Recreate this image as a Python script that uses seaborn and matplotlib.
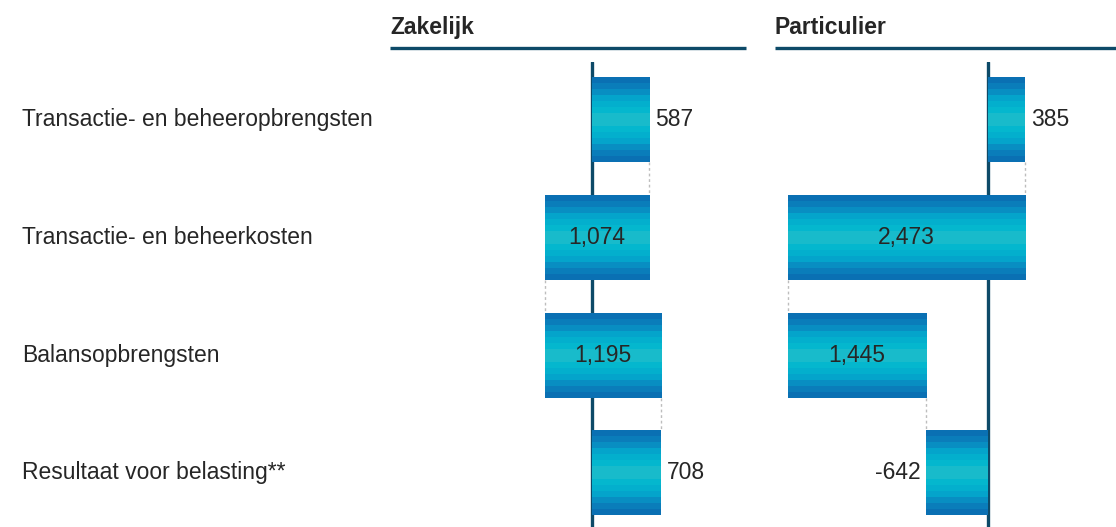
import numpy as np
import pandas as pd
import matplotlib
matplotlib.use("Agg")
import matplotlib.pyplot as plt
import matplotlib.transforms as mtrans
from matplotlib.colors import LinearSegmentedColormap
import seaborn as sns

categories = ["Transactie- en beheeropbrengsten", "Transactie- en beheerkosten",
              "Balansopbrengsten", "Resultaat voor belasting**"]
zakelijk = [587, -1074, 1195, 708]
particulier = [385, -2473, 1445, -642]
panel_titles = ["Zakelijk", "Particulier"]

navy = "#0d4a68"
text_col = "#262626"
grad = LinearSegmentedColormap.from_list(
    "band", ["#0a70b3", "#0a86c0", "#04aacd", "#02b7cf", "#22bdca",
             "#02b7cf", "#04aacd", "#0a86c0", "#0a70b3"])

sns.set_style("white")
plt.rcParams["font.family"] = ["Liberation Sans", "DejaVu Sans"]
FS = 16.5

fig = plt.figure(figsize=(11.16, 5.27), dpi=100)
ax1 = fig.add_axes([390 / 1116, 0, 356 / 1116, 465 / 527])
ax2 = fig.add_axes([775 / 1116, 0, 341 / 1116, 465 / 527])


def waterfall(ax, values, title, xlim):
    vals = np.array(values, dtype=float)
    # starts / ends of each step; last bar is the total from zero
    starts = np.zeros(len(vals))
    ends = np.zeros(len(vals))
    run = 0.0
    for i, v in enumerate(vals):
        if i == len(vals) - 1:
            starts[i], ends[i] = 0, v
        else:
            starts[i], ends[i] = run, run + v
            run += v
    df = pd.DataFrame({"cat": categories, "delta": ends - starts})
    sns.barplot(data=df, x="delta", y="cat", orient="h", ax=ax, width=0.72,
                color="#0aa0c8", linewidth=0, zorder=3)
    patches = list(ax.patches)
    for p, s, e in zip(patches, starts, ends):
        p.set_x(min(s, e))
        p.set_width(abs(e - s))
        p.set_facecolor("none")
        y0, h = p.get_y(), p.get_height()
        img = ax.imshow(np.linspace(0, 1, 14)[:, None], cmap=grad,
                        aspect="auto", interpolation="nearest",
                        extent=[min(s, e), max(s, e), y0 + h, y0], zorder=3)
        img.set_clip_path(p)

    # dotted connectors
    for i in range(len(vals) - 1):
        xc = ends[i]
        p0, p1 = patches[i], patches[i + 1]
        ax.plot([xc, xc], [p0.get_y() + p0.get_height(), p1.get_y()],
                color="#bdbdbd", lw=1, ls=(0, (2, 2)), zorder=1)

    ax.axvline(0, color=navy, lw=2.4, zorder=2)

    # value labels
    for i, (p, v) in enumerate(zip(patches, vals)):
        yc = p.get_y() + p.get_height() / 2
        if i in (1, 2):
            ax.text((starts[i] + ends[i]) / 2, yc, f"{abs(v):,.0f}", ha="center",
                    va="center", fontsize=FS, color=text_col, zorder=4)
        elif v >= 0:
            ax.text(ends[i] + 60, yc, f"{v:,.0f}", ha="left", va="center",
                    fontsize=FS, color=text_col, zorder=4)
        else:
            ax.text(ends[i] - 60, yc, f"{v:,.0f}", ha="right", va="center",
                    fontsize=FS, color=text_col, zorder=4)

    ax.set_xlim(*xlim)
    ax.set_ylim(3.46, -0.49)
    ax.set_xlabel("")
    ax.set_ylabel("")
    ax.set_xticks([])
    ax.set_yticks([])
    for sp in ax.spines.values():
        sp.set_visible(False)

    ax.plot([0, 1], [1.03, 1.03], transform=ax.transAxes, color=navy, lw=2.4,
            clip_on=False, solid_capstyle="butt")
    ax.text(0, 1.075, title, transform=ax.transAxes, ha="left", va="center",
            fontsize=FS, fontweight="bold", color=text_col)


waterfall(ax1, zakelijk, panel_titles[0], (-2078, 1584))
waterfall(ax2, particulier, panel_titles[1], (-2219, 1333))

trans = mtrans.blended_transform_factory(fig.transFigure, ax1.transData)
for i, c in enumerate(categories):
    ax1.text(22 / 1116, i, c, transform=trans, ha="left", va="center",
             fontsize=FS, color=text_col)

fig.savefig("out.png", dpi=100)
